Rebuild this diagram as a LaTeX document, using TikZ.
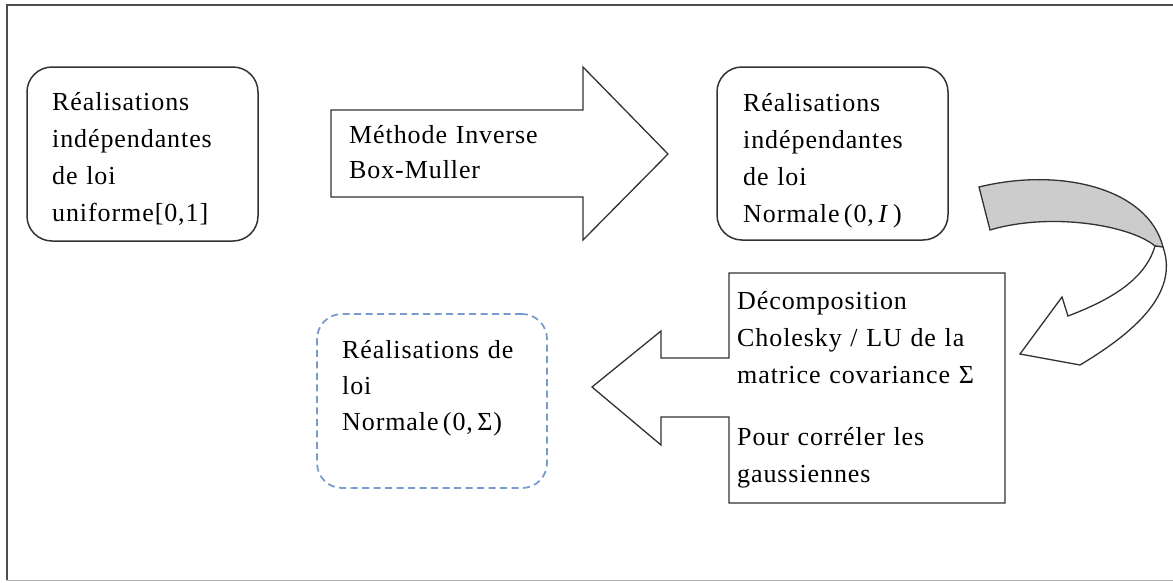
\documentclass[tikz,border=0pt]{standalone}
\usepackage{fontspec}
\setmainfont[LetterSpace=3.5]{Liberation Serif}
\definecolor{dashblue}{RGB}{120,155,205}
\definecolor{bandgray}{RGB}{204,204,204}
\definecolor{linegray}{RGB}{50,50,50}
\begin{document}
\begin{tikzpicture}[x=1pt,y=-1pt,
  roundbox/.style={draw=linegray, line width=1.5pt, rounded corners=25pt, inner sep=0pt},
  dashbox/.style={draw=dashblue, line width=1.8pt, dash pattern=on 7pt off 4.5pt, rounded corners=25pt, inner sep=0pt},
  shapeline/.style={draw=linegray, line width=1.3pt, line join=miter},
  txt/.style={anchor=base west, inner sep=0pt, text width=270pt, align=left, font=\fontsize{26}{37}\selectfont}]
\useasboundingbox (0,0) rectangle (1173,582);
% outer frame
\draw[black!70, line width=2.5pt] (1174,5) -- (7,5) -- (7,580);
\draw[black!30, line width=1.2pt] (7,580.5) -- (1174,580.5);

% box 1
\node[roundbox, minimum width=231pt, minimum height=174pt] (b1) at (142.5,154) {};
\node[txt] (t1) at (52,110) {Réalisations\\indépendantes\\de loi\\uniforme[0,1]};

% right block arrow
\path[shapeline, fill=white] (331,110) -- (583,110) -- (583,67) -- (668,154) -- (583,240) -- (583,197) -- (331,197) -- cycle;
\node[txt, font=\fontsize{26}{35}\selectfont] (ta) at (349,143) {Méthode Inverse\\Box-Muller};

% box 2
\node[roundbox, minimum width=231pt, minimum height=173pt] (b2) at (832.5,153.5) {};
\node[txt] (t2) at (743,111) {Réalisations\\indépendantes\\de loi\\Normale\,(0,\,\textit{I}\,)};

% curved arrow: back (gray) band
\path[shapeline, fill=bandgray] (979,187) .. controls (1060,167) and (1148,188) .. (1163,247)
  -- (1155,246) .. controls (1130,225) and (1050,212) .. (990,230) -- cycle;
% curved arrow: front part with head
\path[shapeline, fill=white] (1163,247) .. controls (1180,295) and (1130,335) .. (1080,365)
  -- (1020,354) -- (1062,297) -- (1068,316)
  .. controls (1110,300) and (1145,280) .. (1155,246) -- cycle;

% left arrow callout
\path[shapeline, fill=white] (1005,273) -- (729,273) -- (729,358) -- (661,358) -- (661,331)
  -- (592,387) -- (661,445) -- (661,417) -- (729,417) -- (729,503) -- (1005,503) -- cycle;
\node[txt, font=\fontsize{26}{37}\selectfont] (t3) at (737,309) {Décomposition\\Cholesky / LU de la\\matrice covariance Σ\\[25pt]Pour corréler les\\gaussiennes};

% box 4 (dashed)
\node[dashbox, minimum width=230pt, minimum height=174pt] (b4) at (432,401) {};
\node[txt, font=\fontsize{26}{36}\selectfont] (t4) at (342,358) {Réalisations de\\loi\\Normale\,(0,\,Σ)};
\end{tikzpicture}
\end{document}
